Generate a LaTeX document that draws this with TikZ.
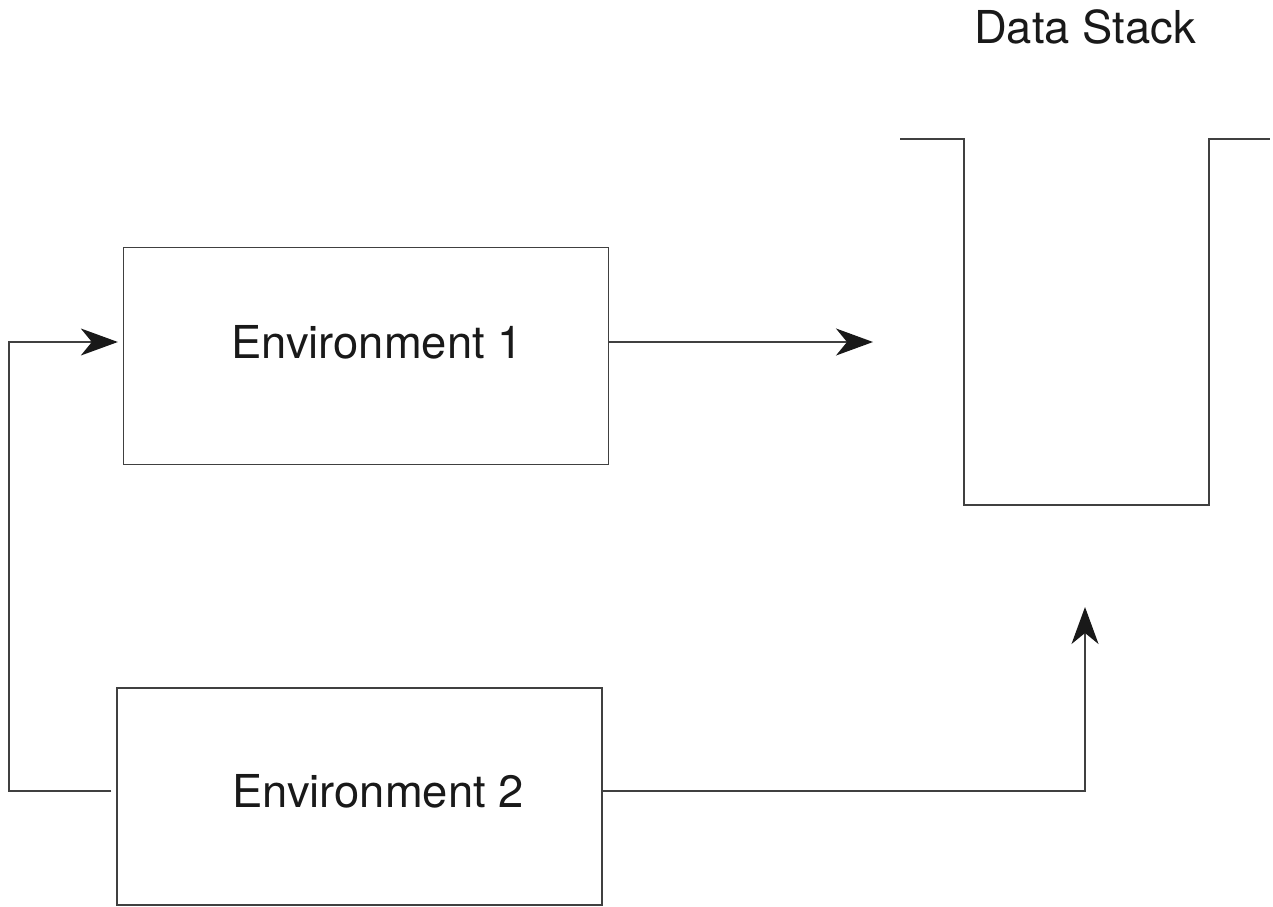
\documentclass[tikz,border=0pt]{standalone}
\usepackage{fontspec}
\setmainfont{TeX Gyre Heros}
\usetikzlibrary{arrows.meta}

\begin{document}
\begin{tikzpicture}[x=0.02cm, y=-0.02cm,
    envbox/.style={draw=black!75, line width=0.8pt, minimum width=9.7cm, minimum height=4.34cm, inner sep=0pt},
    envlabel/.style={font=\fontsize{25.8}{31}\selectfont, text=black!90, inner sep=0pt},
    conn/.style={draw=black!75, line width=0.8pt, -{Stealth[length=7.4mm, width=5.4mm, inset=2.2mm, black!90]}}]
  \useasboundingbox (0,0) rectangle (1273,906);

  % TOP LEFT: first environment
  \node[envbox] (env1) at (366, 356) {};
  \node[envlabel] (env1txt) at (377, 342) {Environment 1};

  % BOTTOM LEFT: second environment
  \node[envbox] (env2) at (359.5, 796.5) {};
  \node[envlabel] (env2txt) at (378, 791) {Environment 2};

  % RIGHT: the stack, open at the top
  \node[envlabel] (stacktitle) at (1085, 27) {Data Stack};
  \draw[black!75, line width=0.8pt] (900, 139) -- (964, 139) -- (964, 505) -- (1209, 505) -- (1209, 139) -- (1270, 139);
  \coordinate (stackin) at (873, 342);
  \coordinate (stackbot) at (1085, 607);

  % Arrows
  \draw[conn] (env1.east |- env1txt) -- (stackin);
  \draw[conn] (env2.east |- env2txt) -| (stackbot);
  \draw[conn, shorten <=5*0.02cm, shorten >=5*0.02cm] (env2.west |- env2txt) -- (9, 791) |- (env1.west |- env1txt);
\end{tikzpicture}
\end{document}
